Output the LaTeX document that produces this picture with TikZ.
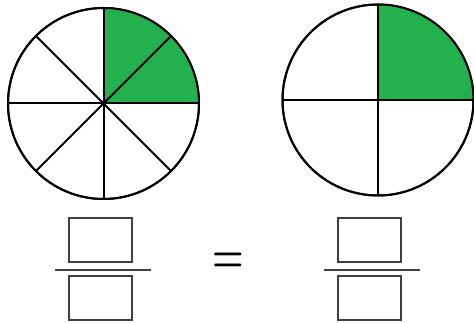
\documentclass[tikz,border=0pt]{standalone}
\usepackage{tikz}
\usetikzlibrary{positioning}
\definecolor{pieGreen}{RGB}{34,177,76}
\newcommand\pieR{95.5}
\newcommand\boxW{63}
\newcommand\boxH{44}
\newcommand\boxGap{14}
\tikzset{
    pie/.style={circle, draw, line width=2pt, minimum size=2*\pieR pt, inner sep=0pt, outer sep=0pt},
    pieline/.style={line width=2pt},
    answerbox/.style={draw=black!75, line width=2pt, minimum width=\boxW pt, minimum height=\boxH pt, inner sep=0pt, outer sep=0pt},
    fracbar/.style={draw=black!75, line width=2.4pt}
}

\begin{document}
\begin{tikzpicture}[x=1pt,y=1pt]
    \useasboundingbox (0,0) rectangle (474,323);

    % eighths
    \node[pie] (eighths) at (103.5,219.5) {};
    \fill[pieGreen] (eighths.center) -- (eighths.east) arc (0:90:\pieR) -- cycle;
    \foreach \a in {0,45,...,315}
        \draw[pieline] (eighths.center) -- (eighths.\a);
    \draw[line width=2pt] (eighths.center) circle (\pieR);
    \fill (eighths.center) circle (2.8);

    % quarters
    \node[pie] (quarters) at (378,223) {};
    \fill[pieGreen] (quarters.center) -- (quarters.east) arc (0:90:\pieR) -- cycle;
    \foreach \a in {0,90,...,270}
        \draw[pieline] (quarters.center) -- (quarters.\a);
    \draw[line width=2pt] (quarters.center) circle (\pieR);

    % fractions
    \node[answerbox] (lnum) at (100.5,82.5) {};
    \node[answerbox, below=\boxGap pt of lnum] (lden) {};
    \coordinate (lbarA) at (55,53);
    \coordinate (lbarB) at (151,53);
    \draw[fracbar] (lbarA) -- (lbarB);

    \node[anchor=base, inner sep=0pt] (equals) at (228.5,50)
        {\fontsize{36}{36}\selectfont\bfseries\scalebox{1}[1.4]{=}};

    \node[answerbox] (rnum) at (369.5,82.5) {};
    \node[answerbox, below=\boxGap pt of rnum] (rden) {};
    \coordinate (rbarA) at (324,53);
    \coordinate (rbarB) at (420,53);
    \draw[fracbar] (rbarA) -- (rbarB);
\end{tikzpicture}
\end{document}
